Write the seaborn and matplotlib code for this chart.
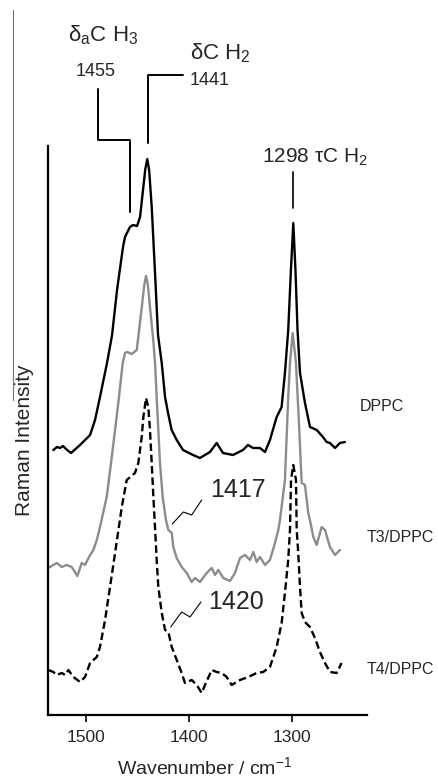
import seaborn as sns
import matplotlib.pyplot as plt
from matplotlib.lines import Line2D

# spectra (wavenumber cm-1, stacked intensity a.u.)
wn_dppc = [1531.4, 1527.8, 1524.9, 1522.0, 1518.1, 1514.2, 1505.5, 1495.8, 1491.0, 1486.2,
           1479.4, 1474.5, 1469.7, 1463.9, 1462.0, 1457.2, 1454.2, 1450.3, 1447.4, 1442.3, 1440.4,
           1438.6, 1436.1, 1432.9, 1430.0, 1426.4, 1423.2, 1420.3, 1416.8, 1411.9, 1405.8, 1396.1,
           1389.4, 1379.7, 1373.2, 1367.1, 1357.4, 1347.7, 1342.9, 1338.0, 1331.3, 1326.4,
           1321.6, 1315.1, 1310.3, 1307.1, 1303.9, 1301.3, 1299.0, 1296.9, 1294.9, 1292.5,
           1287.7, 1282.8, 1276.3, 1270.3, 1266.7, 1263.5, 1258.6, 1253.8, 1249.0]
int_dppc = [2.65, 2.68, 2.67, 2.69, 2.65, 2.62, 2.70, 2.80, 2.95, 3.18,
            3.52, 3.80, 4.25, 4.68, 4.78, 4.88, 4.90, 4.89, 4.98, 5.46, 5.56,
            5.45, 5.08, 4.42, 3.80, 3.52, 3.18, 3.02, 2.85, 2.75, 2.65, 2.60,
            2.57, 2.63, 2.72, 2.62, 2.60, 2.65, 2.70, 2.67, 2.67, 2.63,
            2.75, 2.98, 3.08, 3.42, 3.85, 4.45, 4.92, 4.45, 3.85, 3.42,
            3.12, 2.88, 2.85, 2.78, 2.73, 2.72, 2.67, 2.72, 2.73]

wn_t3 = [1536.2, 1528.1, 1523.2, 1518.4, 1513.6, 1508.1, 1503.9, 1500.7, 1495.8, 1492.6,
         1489.3, 1486.2, 1479.7, 1475.5, 1471.6, 1467.8, 1464.2, 1462.0, 1459.7, 1455.5,
         1450.6, 1449.1, 1445.5, 1443.3, 1441.6, 1439.8, 1437.8, 1434.6, 1432.9, 1431.3, 1429.7, 1428.1,
         1425.5, 1422.3, 1420.0, 1416.7, 1415.2, 1411.9, 1407.1, 1402.2, 1397.4, 1394.2,
         1389.4, 1382.9, 1378.0, 1374.8, 1371.6, 1366.8, 1360.3, 1355.5, 1350.6, 1345.8,
         1340.9, 1337.7, 1334.5, 1331.2, 1326.4, 1321.6, 1316.7, 1313.5, 1311.9, 1307.1,
         1303.9, 1302.2, 1299.6, 1296.4, 1293.2, 1290.9, 1287.7, 1284.5, 1282.9, 1279.6,
         1276.4, 1271.5, 1268.3, 1263.5, 1258.6, 1253.8]
int_t3 = [1.47, 1.52, 1.48, 1.50, 1.48, 1.39, 1.52, 1.50, 1.60, 1.65,
          1.75, 1.88, 2.18, 2.52, 2.85, 3.18, 3.52, 3.62, 3.63, 3.61,
          3.65, 3.78, 4.10, 4.30, 4.39, 4.30, 4.08, 3.75, 3.52, 3.18, 2.85, 2.52,
          2.18, 1.95, 1.85, 1.82, 1.68, 1.57, 1.48, 1.42, 1.33, 1.37,
          1.33, 1.42, 1.47, 1.40, 1.45, 1.37, 1.34, 1.42, 1.57, 1.60,
          1.55, 1.63, 1.53, 1.58, 1.50, 1.55, 1.72, 1.85, 1.95, 2.35,
          3.18, 3.52, 3.82, 3.52, 2.85, 2.32, 2.30, 2.02, 1.95, 1.78,
          1.70, 1.88, 1.85, 1.68, 1.60, 1.65]

wn_t4 = [1536.2, 1531.4, 1528.1, 1523.2, 1520.0, 1516.8, 1512.0, 1505.5, 1500.7, 1495.8,
         1489.3, 1486.2, 1481.3, 1476.5, 1471.6, 1465.1, 1460.3, 1452.3, 1449.1, 1445.8,
         1444.2, 1441.6, 1439.4, 1437.8, 1436.1, 1434.5, 1432.9, 1431.3, 1429.7, 1426.4,
         1423.2, 1420.0, 1416.7, 1411.9, 1407.1, 1403.9, 1397.4, 1392.5, 1387.7, 1384.5,
         1378.0, 1373.2, 1368.3, 1363.5, 1358.7, 1350.6, 1342.6, 1334.5, 1328.1, 1321.6,
         1315.1, 1310.3, 1307.1, 1303.9, 1302.2, 1301.2, 1299.0, 1296.4, 1295.7, 1294.2,
         1292.5, 1290.9, 1287.7, 1282.9, 1278.0, 1273.2, 1268.3, 1263.5, 1257.0, 1252.2]
int_t4 = [0.45, 0.43, 0.40, 0.42, 0.40, 0.45, 0.38, 0.33, 0.38, 0.52,
          0.58, 0.68, 0.95, 1.28, 1.62, 2.08, 2.35, 2.42, 2.52, 2.78,
          2.98, 3.17, 3.08, 2.85, 2.52, 2.18, 1.87, 1.55, 1.28, 1.02,
          0.85, 0.83, 0.68, 0.55, 0.42, 0.32, 0.35, 0.30, 0.22, 0.30,
          0.45, 0.43, 0.42, 0.38, 0.30, 0.35, 0.38, 0.42, 0.43, 0.48,
          0.68, 0.92, 1.22, 1.55, 1.85, 2.35, 2.50, 2.35, 1.85, 1.62,
          1.28, 1.02, 0.93, 0.88, 0.77, 0.63, 0.52, 0.43, 0.42, 0.52]

sample_names = ["DPPC", "T3/DPPC", "T4/DPPC"]
band_labels = ["1455", "1441", "1298", "1417", "1420"]

sns.set_theme(style="ticks")
plt.rcParams['font.family'] = ['Liberation Sans', 'DejaVu Sans']
plt.rcParams['mathtext.fontset'] = 'custom'
plt.rcParams['mathtext.rm'] = 'Liberation Sans'
plt.rcParams['mathtext.it'] = 'Liberation Sans:italic'

fig = plt.figure(figsize=(4.38, 7.82), dpi=100)
ax = fig.add_axes([0.109, 0.0857, 0.728, 0.7276])

sns.lineplot(x=wn_dppc, y=int_dppc, ax=ax, color='black', lw=1.7, sort=False)
sns.lineplot(x=wn_t3, y=int_t3, ax=ax, color='#8c8c8c', lw=1.7, sort=False)
sns.lineplot(x=wn_t4, y=int_t4, ax=ax, color='black', lw=1.7, sort=False, dashes=False,
             linestyle=(0, (3.2, 1.6)))

ax.set_xlim(1536.8, 1228)
ax.set_ylim(0, 5.69)
ax.set_yticks([])
ax.set_xticks([1500, 1400, 1300])
ax.tick_params(axis='x', direction='out', length=5, width=1.4, labelsize=12.5, pad=6)
for s in ['top', 'right']:
    ax.spines[s].set_visible(False)
for s in ['left', 'bottom']:
    ax.spines[s].set_linewidth(1.6)
    ax.spines[s].set_color('black')

ax.set_xlabel("Wavenumber / cm$^{-1}$", fontsize=14)
ax.xaxis.set_label_coords(0.493, -0.072)
ax.set_ylabel("Raman Intensity", fontsize=15)
ax.yaxis.set_label_coords(-0.042, 0.483)

# sample names on the right
ax.text(1234.4, 3.08, sample_names[0], fontsize=11.5, va='center', clip_on=False)
ax.text(1227.7, 1.77, sample_names[1], fontsize=11.5, va='center', clip_on=False)
ax.text(1227.7, 0.45, sample_names[2], fontsize=11.5, va='center', clip_on=False)

# band assignments
ax.text(1517.1, 6.80, r'$\mathrm{\delta_a}$C H$_3$', fontsize=16, va='center', clip_on=False)
ax.text(1490.0, 6.44, band_labels[0], fontsize=13, ha='center', va='center', clip_on=False)
ax.plot([1487.8, 1487.8, 1457.1, 1457.1], [6.26, 5.75, 5.75, 5.03], color='black', lw=1.4, clip_on=False)

ax.text(1399, 6.62, r'$\mathrm{\delta}$C H$_2$', fontsize=16, va='center', clip_on=False)
ax.text(1399, 6.35, band_labels[1], fontsize=13, va='center', clip_on=False)
ax.plot([1405.5, 1440, 1440], [6.40, 6.40, 5.72], color='black', lw=1.4, clip_on=False)

ax.text(1329.3, 5.58, band_labels[2] + r' $\mathrm{\tau}$C H$_2$', fontsize=15, va='center', clip_on=False)
ax.plot([1299.6, 1299.6], [5.43, 5.07], color='black', lw=1.2, clip_on=False)

# shoulders
ax.text(1379.7, 2.25, band_labels[3], fontsize=18, va='center')
ax.plot([1416.2, 1405.5, 1397.4, 1387.7], [1.91, 2.03, 2.00, 2.15], color='black', lw=0.8)
ax.text(1381.6, 1.13, band_labels[4], fontsize=18, va='center')
ax.plot([1417.7, 1407.1, 1399.0, 1388.4], [0.88, 1.03, 0.98, 1.13], color='black', lw=0.8)

# thin grey edge line present on the scanned figure
fig.add_artist(Line2D([13 / 438, 13 / 438], [1 - 10 / 782, 1 - 400 / 782],
                      transform=fig.transFigure, color='0.45', lw=0.8))

plt.savefig('out.png', dpi=100)
